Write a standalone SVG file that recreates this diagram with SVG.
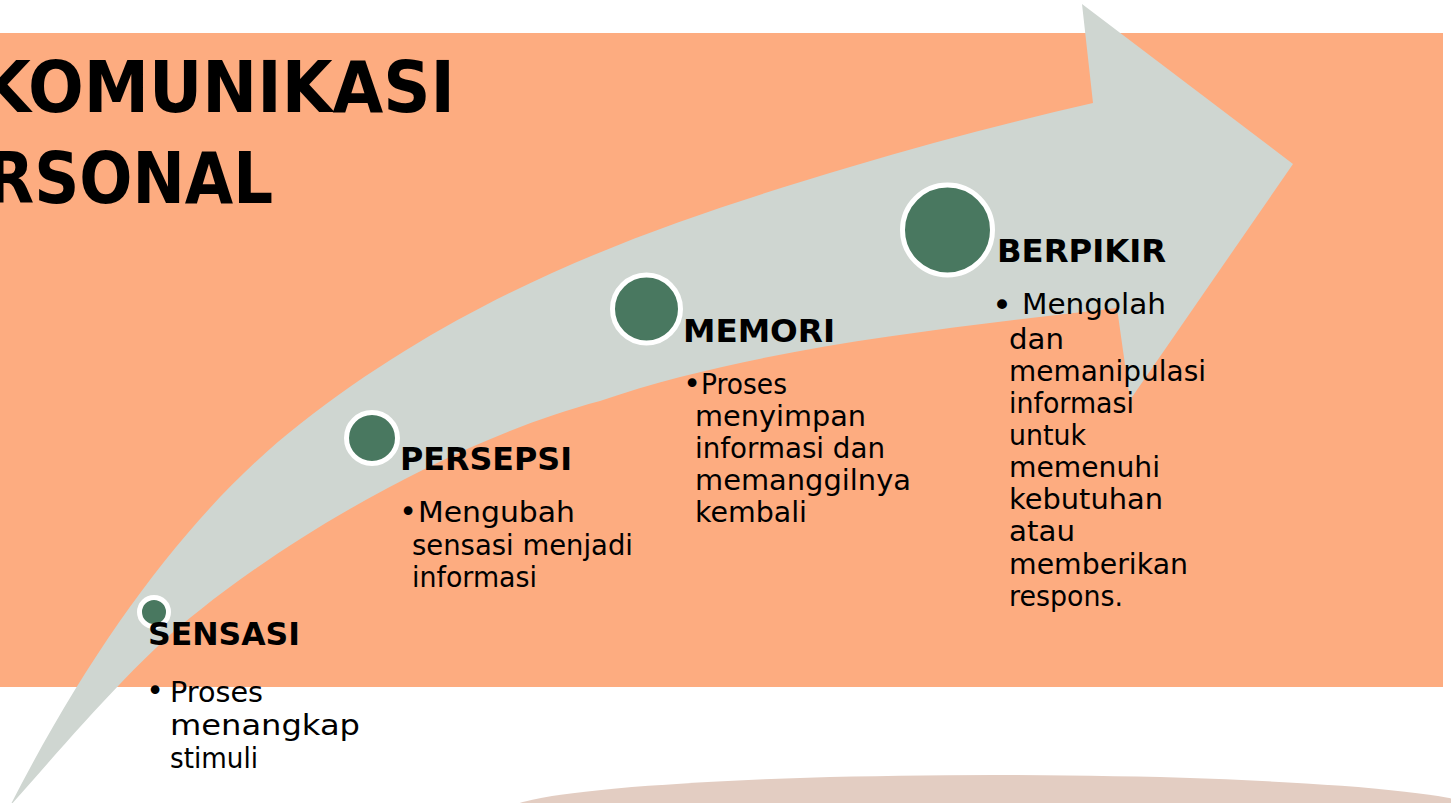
<svg xmlns="http://www.w3.org/2000/svg" width="1451" height="803" viewBox="0 0 1451 803">
  <style>
    .title { font-family: "DejaVu Sans", "Liberation Sans", sans-serif; font-weight: bold; font-size: 72px; fill: #000; }
    .head { font-family: "DejaVu Sans", "Liberation Sans", sans-serif; font-weight: bold; font-size: 32px; fill: #000; }
    .body { font-family: "DejaVu Sans", "Liberation Sans", sans-serif; font-size: 28px; fill: #000; }
    .bul { font-family: "DejaVu Sans", "Liberation Sans", sans-serif; font-size: 30px; fill: #000; text-anchor: middle; }
    .dot { fill: #497860; stroke: #ffffff; stroke-width: 5; }
  </style>
  <rect x="0" y="0" width="1451" height="803" fill="#ffffff"/>
  <rect id="background" x="0" y="33" width="1443" height="654" fill="#fdac80"/>
  <ellipse id="base-ellipse" cx="995" cy="812" rx="490" ry="37" fill="#e3cdc2"/>

  <g id="connectors">
    <path id="arrow" fill="#cfd6d1" d="M 10 806 C 100 630 200 502 300 424 C 480 283 670 221 850 167 C 930 143 1010 122 1093 103 L 1082 4 L 1293 164 L 1130 400 L 1117 308 C 945 328 750 349 600 401 C 460 438 300 530 200 610 C 140 655 60 750 10 806 Z"/>
  </g>

  <g id="title">
    <text class="title" x="-20" y="112" textLength="475" lengthAdjust="spacingAndGlyphs">KOMUNIKASI</text>
    <text class="title" x="-14" y="203" textLength="287" lengthAdjust="spacingAndGlyphs">RSONAL</text>
  </g>

  <g id="node-sensasi">
    <circle class="dot" cx="154" cy="612" r="14.5"/>
    <text class="head" x="148" y="645" textLength="152" lengthAdjust="spacingAndGlyphs">SENSASI</text>
    <text class="bul" x="155" y="701">•</text>
    <text class="body" x="170" y="702" textLength="93" lengthAdjust="spacingAndGlyphs">Proses</text>
    <text class="body" x="170" y="735" textLength="190" lengthAdjust="spacingAndGlyphs">menangkap</text>
    <text class="body" x="170" y="768" textLength="88" lengthAdjust="spacingAndGlyphs">stimuli</text>
  </g>

  <g id="node-persepsi">
    <circle class="dot" cx="372" cy="438" r="25.5"/>
    <text class="head" x="400" y="470" textLength="172" lengthAdjust="spacingAndGlyphs">PERSEPSI</text>
    <text class="bul" x="408" y="522">•</text>
    <text class="body" x="418" y="522" textLength="157" lengthAdjust="spacingAndGlyphs">Mengubah</text>
    <text class="body" x="412" y="555" textLength="221" lengthAdjust="spacingAndGlyphs">sensasi menjadi</text>
    <text class="body" x="412" y="587" textLength="125" lengthAdjust="spacingAndGlyphs">informasi</text>
  </g>

  <g id="node-memori">
    <circle class="dot" cx="646.5" cy="309" r="34"/>
    <text class="head" x="683" y="342" textLength="152" lengthAdjust="spacingAndGlyphs">MEMORI</text>
    <text class="bul" x="692" y="394">•</text>
    <text class="body" x="701" y="394" textLength="86" lengthAdjust="spacingAndGlyphs">Proses</text>
    <text class="body" x="695" y="426" textLength="171" lengthAdjust="spacingAndGlyphs">menyimpan</text>
    <text class="body" x="695" y="458" textLength="190" lengthAdjust="spacingAndGlyphs">informasi dan</text>
    <text class="body" x="695" y="490" textLength="216" lengthAdjust="spacingAndGlyphs">memanggilnya</text>
    <text class="body" x="695" y="522" textLength="112" lengthAdjust="spacingAndGlyphs">kembali</text>
  </g>

  <g id="node-berpikir">
    <circle class="dot" cx="947.5" cy="230" r="45"/>
    <text class="head" x="997" y="262" textLength="169" lengthAdjust="spacingAndGlyphs">BERPIKIR</text>
    <text class="bul" x="1002" y="317" style="font-size:34px">•</text>
    <text class="body" x="1022" y="314" textLength="144" lengthAdjust="spacingAndGlyphs">Mengolah</text>
    <text class="body" x="1009" y="349" textLength="55" lengthAdjust="spacingAndGlyphs">dan</text>
    <text class="body" x="1009" y="381" textLength="197" lengthAdjust="spacingAndGlyphs">memanipulasi</text>
    <text class="body" x="1009" y="413" textLength="125" lengthAdjust="spacingAndGlyphs">informasi</text>
    <text class="body" x="1009" y="445" textLength="77" lengthAdjust="spacingAndGlyphs">untuk</text>
    <text class="body" x="1009" y="477" textLength="151" lengthAdjust="spacingAndGlyphs">memenuhi</text>
    <text class="body" x="1009" y="509" textLength="154" lengthAdjust="spacingAndGlyphs">kebutuhan</text>
    <text class="body" x="1009" y="541" textLength="66" lengthAdjust="spacingAndGlyphs">atau</text>
    <text class="body" x="1009" y="574" textLength="179" lengthAdjust="spacingAndGlyphs">memberikan</text>
    <text class="body" x="1009" y="606" textLength="114" lengthAdjust="spacingAndGlyphs">respons.</text>
  </g>
</svg>
